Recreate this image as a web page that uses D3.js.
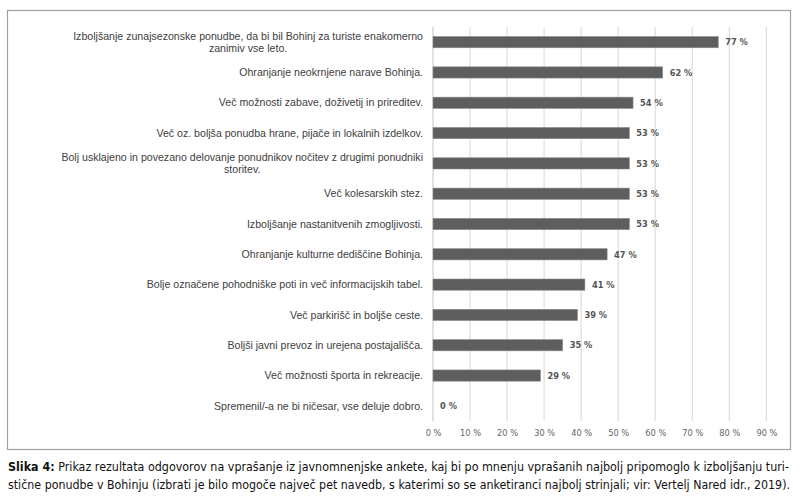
<!DOCTYPE html>
<html>
<head>
<meta charset="utf-8">
<script src="https://cdn.jsdelivr.net/npm/d3@7"></script>
<style>
  body { margin: 0; background: #fff; }
  svg { display: block; }
</style>
</head>
<body>
<div id="chart-area"></div>
<script>
// chart data
let categories = [
  "Izboljšanje zunajsezonske ponudbe, da bi bil Bohinj za turiste enakomerno|zanimiv vse leto.",
  "Ohranjanje neokrnjene narave Bohinja.",
  "Več možnosti zabave, doživetij in prireditev.",
  "Več oz. boljša ponudba hrane, pijače in lokalnih izdelkov.",
  "Bolj usklajeno in povezano delovanje ponudnikov nočitev z drugimi ponudniki|storitev.",
  "Več kolesarskih stez.",
  "Izboljšanje nastanitvenih zmogljivosti.",
  "Ohranjanje kulturne dediščine Bohinja.",
  "Bolje označene pohodniške poti in več informacijskih tabel.",
  "Več parkirišč in boljše ceste.",
  "Boljši javni prevoz in urejena postajališča.",
  "Več možnosti športa in rekreacije.",
  "Spremenil/-a ne bi ničesar, vse deluje dobro."
];
let values = [77, 62, 54, 53, 53, 53, 53, 47, 41, 39, 35, 29, 0];
let ticks = [0, 10, 20, 30, 40, 50, 60, 70, 80, 90];
let captionBold = "Slika 4:";
let captionLines = [
  " Prikaz rezultata odgovorov na vprašanje iz javnomnenjske ankete, kaj bi po mnenju vprašanih najbolj pripomoglo k izboljšanju turi-",
  "stične ponudbe v Bohinju (izbrati je bilo mogoče največ pet navedb, s katerimi so se anketiranci najbolj strinjali; vir: Vertelj Nared idr., 2019)."
];

var width = 800,
    height = 503;

let svg = d3.select("#chart-area").append("svg")
  .attr("width", width)
  .attr("height", height);

// frame round the chart
svg.append("rect")
  .attr("x", 7.5).attr("y", 10.5)
  .attr("width", 783).attr("height", 439)
  .attr("fill", "none")
  .attr("stroke", "#a0a0a0")
  .attr("stroke-width", 1.2);

let plot = {left: 433, right: 766.4, top: 27, bottom: 421};

let x = d3.scaleLinear()
  .domain([0, 90])
  .range([plot.left, plot.right]);

let y = d3.scaleBand()
  .domain(categories)
  .range([plot.top, plot.bottom])
  .paddingInner(0.63)
  .paddingOuter(0.315);

// gridlines
svg.append("g")
  .selectAll("line")
  .data(ticks)
  .enter()
  .append("line")
  .attr("x1", d => x(d)).attr("x2", d => x(d))
  .attr("y1", plot.top).attr("y2", plot.bottom)
  .attr("stroke", d => d === 0 ? "#cfcfcf" : "#dedede")
  .attr("stroke-width", 1.2);

let xaxis = d3.axisBottom(x)
  .tickValues(ticks)
  .tickSize(0)
  .tickPadding(0)
  .tickFormat(d => d + " %");

let gx = svg.append("g")
  .attr("transform", "translate(0," + (plot.bottom + 15) + ")")
  .call(xaxis);
gx.select(".domain").remove();
gx.selectAll("text")
  .attr("dy", "0")
  .attr("fill", "#666")
  .style("font-family", "'DejaVu Sans Condensed', sans-serif")
  .style("font-size", "9.2px");

// bars
svg.selectAll("rect.bar")
  .data(values)
  .enter()
  .append("rect")
  .attr("class", "bar")
  .attr("x", x(0))
  .attr("y", (d, i) => y(categories[i]))
  .attr("width", d => x(d) - x(0))
  .attr("height", y.bandwidth())
  .attr("fill", "#5e5e5e")
  .attr("stroke", "#8a8a8a")
  .attr("stroke-width", 0.6);

// value labels
svg.selectAll("text.val")
  .data(values)
  .enter()
  .append("text")
  .attr("class", "val")
  .attr("x", d => x(d) + 7)
  .attr("y", (d, i) => y(categories[i]) + y.bandwidth() / 2)
  .attr("dy", "0.35em")
  .attr("fill", "#555")
  .style("font-family", "'DejaVu Sans Condensed', sans-serif")
  .style("font-size", "9.2px")
  .style("font-weight", "bold")
  .text(d => d + " %");

// category labels, wrapped lines centred, block right aligned
let labelRight = 423;
categories.forEach((c, i) => {
  let lines = c.split("|");
  let cy = y(c) + y.bandwidth() / 2;
  let g = svg.append("g");
  let texts = lines.map((l, j) => g.append("text")
    .attr("y", cy + (j - (lines.length - 1) / 2) * 11.5)
    .attr("dy", "0.35em")
    .attr("fill", "#404040")
    .style("font-family", "'Liberation Sans', Arial, sans-serif")
    .style("font-size", "10.6px")
    .text(l));
  let w = d3.max(texts, t => t.node().getComputedTextLength());
  texts.forEach(t => t.attr("text-anchor", "middle").attr("x", labelRight - w / 2));
});

// caption
let cap = svg.append("g")
  .style("font-family", "'DejaVu Sans Condensed', sans-serif")
  .style("font-size", "12.2px")
  .attr("fill", "#111");
captionLines.forEach((l, i) => {
  let t = cap.append("text")
    .attr("x", 8)
    .attr("y", 471 + i * 17.5)
    .attr("textLength", i === 0 ? 781 : 782)
    .attr("lengthAdjust", "spacingAndGlyphs");
  if (i === 0) t.append("tspan").style("font-weight", "bold").text(captionBold);
  t.append("tspan").text(l);
});
</script>
</body>
</html>
